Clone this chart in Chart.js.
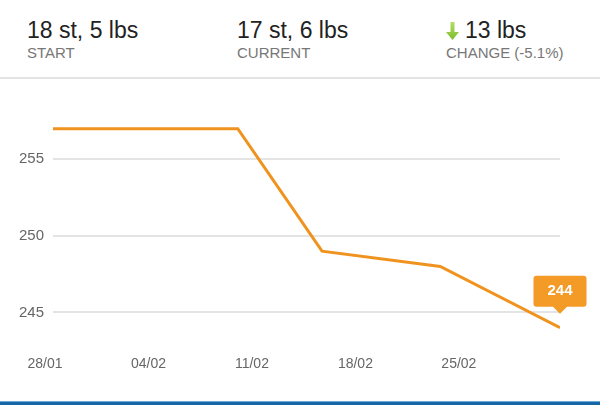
<!DOCTYPE html>
<html>
<head>
<meta charset="utf-8">
<script src="https://cdn.jsdelivr.net/npm/chart.js@4/dist/chart.umd.min.js"></script>
<style>
  html, body { margin: 0; padding: 0; background: #fff; }
  body { width: 600px; height: 405px; position: relative; overflow: hidden;
         font-family: "Helvetica Neue", Helvetica, Arial, "Liberation Sans", sans-serif; }
  .stat { position: absolute; top: 17px; }
  .stat .big { font-size: 23px; color: #222; line-height: 26px; white-space: nowrap; }
  .stat .small { font-size: 15px; color: #777; line-height: 16px; margin-top: 2px; white-space: nowrap; }
  .sep { position: absolute; left: 0; top: 77px; width: 600px; height: 2px; background: #e3e3e3; }
  .bottom { position: absolute; left: 0; top: 401px; width: 600px; height: 4px;
            background: #1767a8; border-top: 1px solid #6fa9d6; box-sizing: border-box; }
  .wrap { position: absolute; left: 0; top: 80px; width: 600px; height: 320px; }
  .arrow { display: inline-block; vertical-align: top; margin-top: 5px; margin-right: 6px; }
</style>
</head>
<body>
<div class="stat" style="left:27px">
  <div class="big">18 st, 5 lbs</div>
  <div class="small">START</div>
</div>
<div class="stat" style="left:237px">
  <div class="big">17 st, 6 lbs</div>
  <div class="small">CURRENT</div>
</div>
<div class="stat" style="left:446px">
  <div class="big"><svg class="arrow" width="13" height="18" viewBox="0 0 13 18">
    <defs><linearGradient id="g" x1="0" y1="0" x2="0" y2="1">
      <stop offset="0" stop-color="#b5dc6a"/><stop offset="1" stop-color="#7cbd2a"/></linearGradient></defs>
    <path d="M4.5 0 H8.5 V10 H13 L6.5 18 L0 10 H4.5 Z" fill="url(#g)"/></svg>13 lbs</div>
  <div class="small">CHANGE (-5.1%)</div>
</div>
<div class="sep"></div>
<div class="wrap"><canvas id="weightChart"></canvas></div>
<div class="bottom"></div>
<script>
const dayLabels = ['28/01', '04/02', '11/02', '18/02', '25/02'];
const tickDays = [0, 7, 14, 21, 28];
const days = [0, 12.5, 18.2, 26.2, 34.3];
const weights = [257, 257, 249, 248, 244];
const yTicks = [245, 250, 255];

const ctx = document.getElementById('weightChart').getContext('2d');

const chart = new Chart(ctx, {
    type: 'line',
    data: {
        datasets: [{
            data: days.map((d, i) => ({ x: d, y: weights[i] })),
            borderColor: '#f0931e',
            borderWidth: 3,
            pointRadius: 0,
            tension: 0,
            fill: false
        }]
    },
    options: {
        responsive: true,
        maintainAspectRatio: false,
        animation: false,
        events: [],
        layout: { padding: { top: 16, right: 40, bottom: 0, left: 0 } },
        plugins: {
            legend: { display: false },
            tooltip: {
                enabled: true,
                backgroundColor: '#f39a27',
                bodyColor: '#fff',
                bodyFont: { size: 15, weight: 'bold', family: 'Helvetica, Arial, "Liberation Sans", sans-serif' },
                padding: { top: 6, bottom: 7, left: 14, right: 14 },
                displayColors: false,
                cornerRadius: 3,
                caretSize: 7,
                caretPadding: 14,
                xAlign: 'center',
                yAlign: 'bottom',
                callbacks: {
                    title: () => '',
                    label: c => String(c.parsed.y)
                }
            }
        },
        scales: {
            x: {
                type: 'linear',
                min: days[0],
                max: days[days.length - 1],
                afterBuildTicks: s => { s.ticks = tickDays.map(v => ({ value: v })); },
                afterFit: s => { s.height = 57; },
                ticks: {
                    callback: v => dayLabels[tickDays.indexOf(v)],
                    color: '#666',
                    font: { size: 14, family: 'Helvetica, Arial, "Liberation Sans", sans-serif' },
                    padding: 13,
                    labelOffset: -8,
                    maxRotation: 0
                },
                grid: { display: false, drawTicks: false },
                border: { display: false }
            },
            y: {
                min: 243,
                max: 259,
                afterBuildTicks: s => { s.ticks = yTicks.map(v => ({ value: v })); },
                afterFit: s => { s.width = 53; },
                ticks: {
                    color: '#666',
                    font: { size: 15, family: 'Helvetica, Arial, "Liberation Sans", sans-serif' },
                    padding: 9
                },
                grid: { color: '#e4e4e4', lineWidth: 2, drawTicks: false },
                border: { display: false }
            }
        }
    }
});

chart.tooltip.setActiveElements([{ datasetIndex: 0, index: weights.length - 1 }], { x: 0, y: 0 });
chart.update();
</script>
</body>
</html>
